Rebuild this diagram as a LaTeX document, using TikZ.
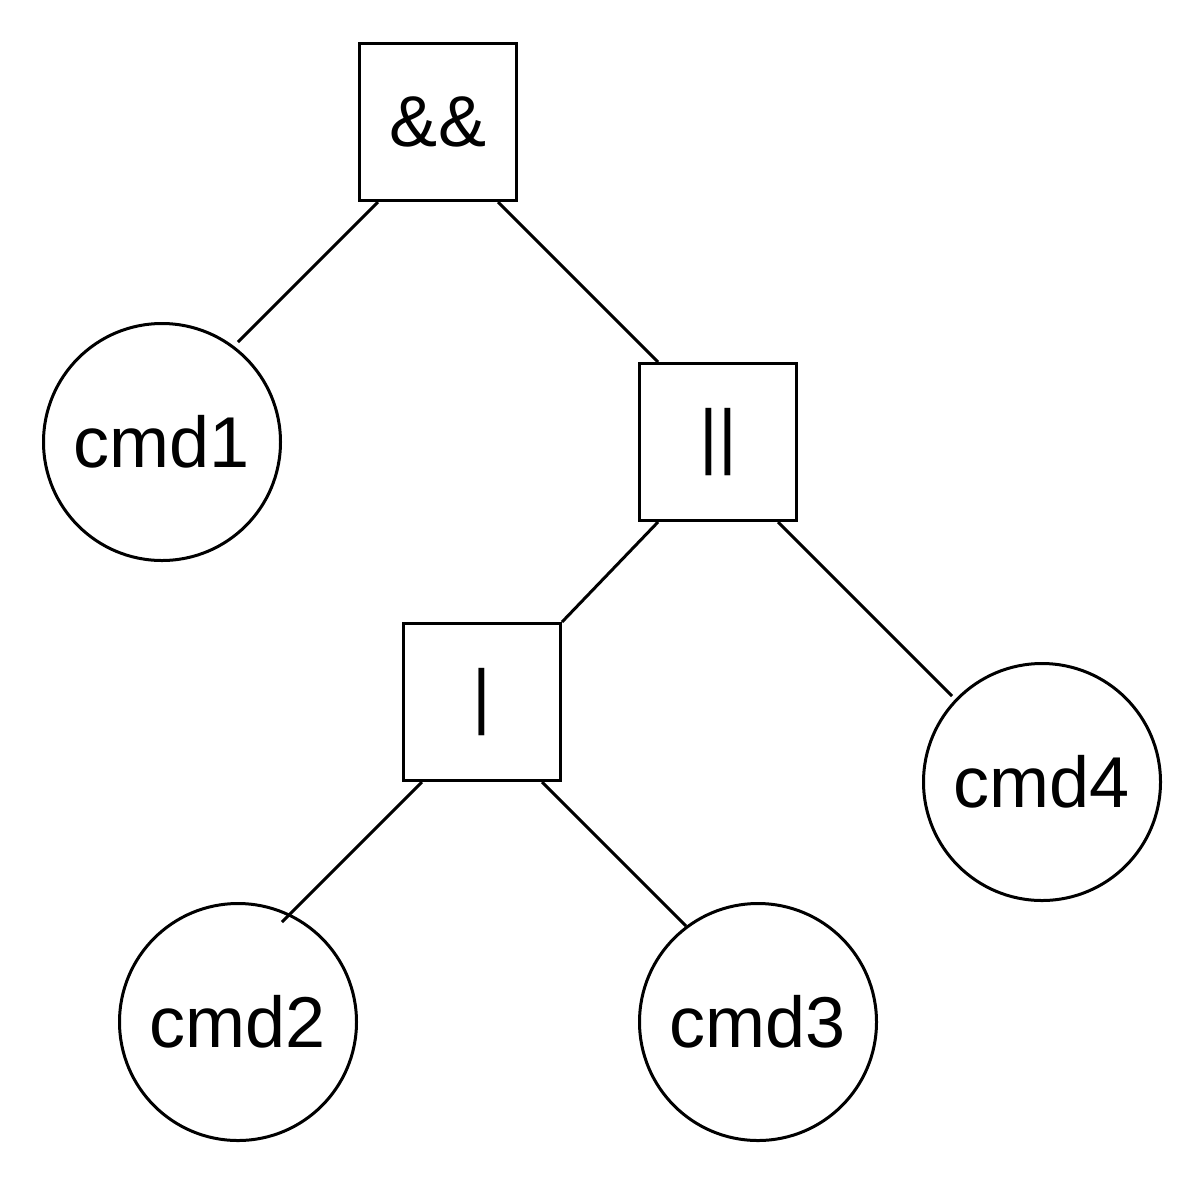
\documentclass[tikz,border=0pt]{standalone}
\usepackage{fontspec}
\setmainfont{Liberation Sans}
\usetikzlibrary{calc}
\begin{document}
\begin{tikzpicture}[x=1pt,y=-1pt,
  opbox/.style={draw,line width=3pt,minimum size=157pt,inner sep=0pt,font=\fontsize{72}{86}\selectfont},
  cmdnode/.style={draw,circle,line width=3pt,minimum size=237pt,inner sep=0pt,font=\fontsize{72}{86}\selectfont},
  edge/.style={line width=3pt}]
\useasboundingbox (0,0) rectangle (1204,1184);
\node[opbox] (and) at (438,122) {\&\&};
\node[opbox] (or) at (718,442) {||};
\node[opbox] (pipe) at (482,702) {|};
\node[cmdnode] (cmd1) at (162,442) {cmd1};
\node[cmdnode] (cmd4) at (1042,782) {cmd4};
\node[cmdnode] (cmd2) at (238,1022) {cmd2};
\node[cmdnode] (cmd3) at (758,1022) {cmd3};
\draw[edge] ($(and.center)+(-60,80)$) -- ($(cmd1.center)+(76,-100)$);
\draw[edge] ($(and.center)+(60,80)$) -- ($(or.center)+(-60,-80)$);
\draw[edge] ($(or.center)+(-60,80)$) -- ($(pipe.center)+(80,-80)$);
\draw[edge] ($(or.center)+(60,80)$) -- ($(cmd4.center)+(-90,-86)$);
\draw[edge] ($(pipe.center)+(-60,80)$) -- ($(cmd2.center)+(44,-100)$);
\draw[edge] ($(pipe.center)+(60,80)$) -- ($(cmd3.center)+(-72,-96)$);
\end{tikzpicture}
\end{document}
